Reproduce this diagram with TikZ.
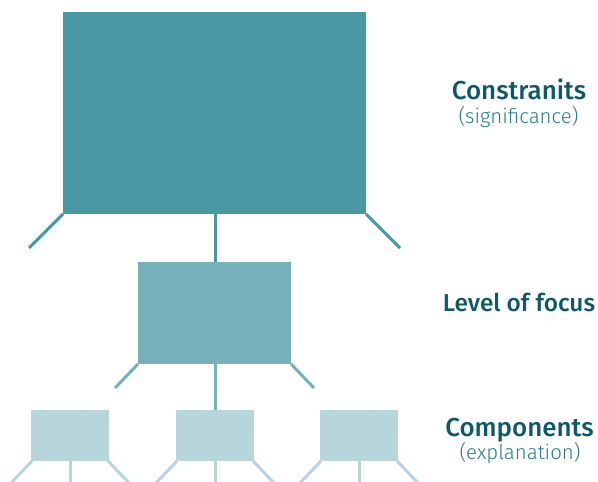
\documentclass[tikz,border=0pt]{standalone}
\usepackage{fontspec}
\setmainfont{Fira Sans}
\newfontfamily\headfont{Fira Sans Medium}
\newfontfamily\subfont{Fira Sans Light}
\definecolor{dark}{HTML}{4A98A3}
\definecolor{mid}{HTML}{76B0B8}
\definecolor{light}{HTML}{B6D6DB}
\definecolor{titlec}{HTML}{0E5868}
\definecolor{subc}{HTML}{2A7A89}
\begin{document}
\begin{tikzpicture}[x=1bp,y=-1bp,
  boxa/.style={fill=dark,draw=none},
  boxb/.style={fill=mid,draw=none},
  boxc/.style={fill=light,draw=none},
  lega/.style={draw=dark,line width=3bp},
  legb/.style={draw=mid,line width=3bp},
  legc/.style={draw=light,line width=3bp},
  title/.style={font=\headfont\fontsize{26}{30}\selectfont,text=titlec,inner sep=0pt},
  sub/.style={font=\subfont\fontsize{20.5}{24}\selectfont,text=subc,inner sep=0pt}]
\useasboundingbox (0,0) rectangle (598,482);
% big box
\fill[boxa] (63,12) rectangle (366,214);
\coordinate (aL) at (63,214); \coordinate (aR) at (366,214); \coordinate (aC) at (215,214);
\coordinate (aLe) at (29,248); \coordinate (aRe) at (400,248);
\draw[lega] (aL) -- (aLe);
\draw[lega] (aR) -- (aRe);
% middle box
\fill[boxb] (138,262) rectangle (291,364);
\coordinate (bT) at (215,262);
\coordinate (bL) at (138,364); \coordinate (bR) at (291,364); \coordinate (bC) at (215,364);
\coordinate (bLe) at (115,388); \coordinate (bRe) at (314,388);
\draw[lega] (aC) -- (bT);
\draw[legb] (bL) -- (bLe);
\draw[legb] (bR) -- (bRe);
% small boxes
\foreach \cx/\n in {70/1,215/2,359/3}{
  \fill[boxc] (\cx-39,410) rectangle (\cx+39,461);
  \coordinate (c\n T) at (\cx,410);
  \coordinate (c\n L) at (\cx-38,461); \coordinate (c\n R) at (\cx+38,461); \coordinate (c\n C) at (\cx,461);
  \coordinate (c\n Le) at (\cx-59,483); \coordinate (c\n Re) at (\cx+59,483); \coordinate (c\n Ce) at (\cx,483);
  \draw[legc] (c\n L) -- (c\n Le);
  \draw[legc] (c\n R) -- (c\n Re);
  \draw[legc] (c\n C) -- (c\n Ce);
}
\draw[legb] (bC) -- (c2T);
% labels
\node[title,anchor=base] (t1) at (519,100) {Constranits};
\node[sub,anchor=base] (s1) at (518.5,124) {(significance)};
\node[title,anchor=base,font=\headfont\fontsize{24.5}{28}\selectfont] (t2) at (519,311) {Level of focus};
\node[title,anchor=base] (t3) at (519.5,436) {Components};
\node[sub,anchor=base] (s3) at (520,459) {(explanation)};
\end{tikzpicture}
\end{document}
